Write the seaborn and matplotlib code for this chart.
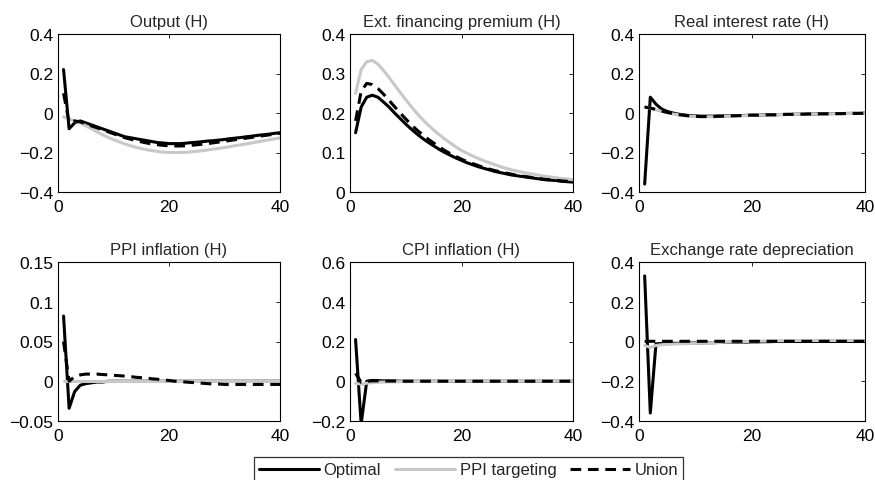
import numpy as np
import pandas as pd
import matplotlib
matplotlib.use("Agg")
import matplotlib.pyplot as plt
import seaborn as sns
from matplotlib.ticker import FixedLocator, FuncFormatter

periods = list(range(1, 41))
series_names = ["Optimal", "PPI targeting", "Union"]

titles = ["Output (H)", "Ext. financing premium (H)", "Real interest rate (H)",
          "PPI inflation (H)", "CPI inflation (H)", "Exchange rate depreciation"]

output_opt = [0.22, -0.08, -0.05, -0.04, -0.05, -0.06, -0.07, -0.08, -0.09, -0.10,
              -0.11, -0.12, -0.125, -0.13, -0.135, -0.14, -0.145, -0.15, -0.152, -0.155,
              -0.155, -0.155, -0.153, -0.15, -0.148, -0.145, -0.142, -0.14, -0.137, -0.134,
              -0.13, -0.127, -0.124, -0.12, -0.117, -0.113, -0.11, -0.107, -0.103, -0.10]
output_ppi = [-0.02, -0.03, -0.04, -0.05, -0.065, -0.08, -0.095, -0.11, -0.123, -0.135,
              -0.146, -0.156, -0.165, -0.173, -0.18, -0.186, -0.191, -0.195, -0.198, -0.2,
              -0.2, -0.2, -0.199, -0.197, -0.194, -0.191, -0.187, -0.183, -0.179, -0.175,
              -0.17, -0.165, -0.161, -0.156, -0.151, -0.146, -0.141, -0.136, -0.131, -0.126]
output_uni = [0.10, -0.05, -0.04, -0.045, -0.055, -0.065, -0.075, -0.085, -0.095, -0.105,
              -0.115, -0.125, -0.132, -0.14, -0.146, -0.152, -0.157, -0.161, -0.164, -0.166,
              -0.167, -0.167, -0.166, -0.164, -0.161, -0.158, -0.155, -0.151, -0.147, -0.143,
              -0.139, -0.135, -0.131, -0.127, -0.123, -0.119, -0.115, -0.111, -0.107, -0.103]

efp_opt = [0.15, 0.215, 0.24, 0.245, 0.24, 0.228, 0.215, 0.2, 0.186, 0.172,
           0.159, 0.147, 0.136, 0.126, 0.117, 0.108, 0.1, 0.093, 0.086, 0.08,
           0.074, 0.069, 0.064, 0.06, 0.056, 0.052, 0.049, 0.046, 0.043, 0.041,
           0.039, 0.037, 0.035, 0.033, 0.031, 0.03, 0.029, 0.027, 0.026, 0.025]
efp_ppi = [0.25, 0.31, 0.33, 0.333, 0.324, 0.308, 0.29, 0.271, 0.252, 0.234,
           0.216, 0.199, 0.184, 0.17, 0.157, 0.145, 0.134, 0.124, 0.114, 0.105,
           0.098, 0.091, 0.085, 0.079, 0.074, 0.069, 0.064, 0.06, 0.056, 0.053,
           0.05, 0.047, 0.045, 0.042, 0.04, 0.038, 0.036, 0.034, 0.033, 0.031]
efp_uni = [0.18, 0.255, 0.275, 0.272, 0.262, 0.248, 0.232, 0.216, 0.2, 0.185,
           0.17, 0.157, 0.145, 0.134, 0.124, 0.114, 0.105, 0.097, 0.09, 0.083,
           0.077, 0.072, 0.067, 0.062, 0.058, 0.054, 0.051, 0.048, 0.045, 0.042,
           0.04, 0.038, 0.036, 0.034, 0.032, 0.031, 0.03, 0.028, 0.027, 0.026]

rir_opt = [-0.36, 0.08, 0.045, 0.02, 0.008, 0.0, -0.006, -0.01, -0.013, -0.015,
           -0.016, -0.016, -0.016, -0.015, -0.015, -0.014, -0.013, -0.013, -0.012, -0.011,
           -0.011, -0.01, -0.009, -0.009, -0.008, -0.007, -0.007, -0.006, -0.006, -0.005,
           -0.005, -0.004, -0.004, -0.003, -0.003, -0.003, -0.002, -0.002, -0.002, -0.001]
rir_ppi = [0.03, 0.024, 0.016, 0.008, 0.001, -0.005, -0.009, -0.013, -0.016, -0.018,
           -0.019, -0.019, -0.019, -0.018, -0.017, -0.016, -0.015, -0.014, -0.013, -0.012,
           -0.011, -0.011, -0.01, -0.009, -0.008, -0.008, -0.007, -0.007, -0.006, -0.006,
           -0.005, -0.005, -0.004, -0.004, -0.003, -0.003, -0.003, -0.002, -0.002, -0.002]
rir_uni = [0.03, 0.025, 0.018, 0.01, 0.003, -0.003, -0.008, -0.012, -0.015, -0.017,
           -0.018, -0.018, -0.018, -0.017, -0.016, -0.015, -0.014, -0.013, -0.012, -0.011,
           -0.011, -0.01, -0.009, -0.009, -0.008, -0.007, -0.007, -0.006, -0.006, -0.005,
           -0.005, -0.004, -0.004, -0.003, -0.003, -0.003, -0.002, -0.002, -0.002, -0.001]

ppi_opt = [0.082, -0.034, -0.013, -0.005, -0.003, -0.002, -0.001, -0.001, 0.0, 0.0,
           0.0, 0.0, 0.0, 0.0, 0.0, 0.0, 0.0, 0.0, 0.0, 0.0,
           0.0, 0.0, 0.0, 0.0, 0.0, 0.0, 0.0, 0.0, 0.0, 0.0,
           0.0, 0.0, 0.0, 0.0, 0.0, 0.0, 0.0, 0.0, 0.0, 0.0]
ppi_ppi = [0.0, 0.0, 0.0, 0.0, 0.0, 0.0, 0.0, 0.0, 0.0, 0.0,
           0.0, 0.0, 0.0, 0.0, 0.0, 0.0, 0.0, 0.0, 0.0, 0.0,
           0.0, 0.0, 0.0, 0.0, 0.0, 0.0, 0.0, 0.0, 0.0, 0.0,
           0.0, 0.0, 0.0, 0.0, 0.0, 0.0, 0.0, 0.0, 0.0, 0.0]
ppi_uni = [0.05, 0.0, 0.006, 0.008, 0.009, 0.009, 0.009, 0.0085, 0.008, 0.0075,
           0.007, 0.0065, 0.006, 0.005, 0.0045, 0.004, 0.003, 0.0025, 0.0015, 0.001,
           0.0, -0.0005, -0.001, -0.0015, -0.002, -0.0025, -0.003, -0.0035, -0.0035, -0.004,
           -0.004, -0.004, -0.004, -0.004, -0.004, -0.004, -0.004, -0.004, -0.004, -0.004]

cpi_opt = [0.21, -0.215, 0.0, 0.004, 0.003, 0.002, 0.001, 0.001, 0.0, 0.0,
           0.0, 0.0, 0.0, 0.0, 0.0, 0.0, 0.0, 0.0, 0.0, 0.0,
           0.0, 0.0, 0.0, 0.0, 0.0, 0.0, 0.0, 0.0, 0.0, 0.0,
           0.0, 0.0, 0.0, 0.0, 0.0, 0.0, 0.0, 0.0, 0.0, 0.0]
cpi_ppi = [-0.01, -0.015, -0.01, -0.007, -0.005, -0.004, -0.003, -0.003, -0.002, -0.002,
           -0.002, -0.001, -0.001, -0.001, -0.001, -0.001, 0.0, 0.0, 0.0, 0.0,
           0.0, 0.0, 0.0, 0.0, 0.0, 0.0, 0.0, 0.0, 0.0, 0.0,
           0.0, 0.0, 0.0, 0.0, 0.0, 0.0, 0.0, 0.0, 0.0, 0.0]
cpi_uni = [0.04, -0.005, 0.0, 0.002, 0.002, 0.001, 0.001, 0.001, 0.0, 0.0,
           0.0, 0.0, 0.0, 0.0, 0.0, 0.0, 0.0, 0.0, 0.0, 0.0,
           0.0, 0.0, 0.0, 0.0, 0.0, 0.0, 0.0, 0.0, 0.0, 0.0,
           0.0, 0.0, 0.0, 0.0, 0.0, 0.0, 0.0, 0.0, 0.0, 0.0]

exr_opt = [0.33, -0.36, -0.012, -0.01, -0.01, -0.009, -0.009, -0.008, -0.008, -0.007,
           -0.007, -0.006, -0.006, -0.005, -0.005, -0.004, -0.004, -0.003, -0.003, -0.002,
           -0.002, -0.001, -0.001, 0.0, 0.0, 0.0, 0.0, 0.0, 0.0, 0.0,
           0.0, 0.0, 0.0, 0.0, 0.0, 0.0, 0.0, 0.0, 0.0, 0.0]
exr_ppi = [-0.02, -0.03, -0.02, -0.016, -0.014, -0.013, -0.012, -0.011, -0.010, -0.009,
           -0.008, -0.007, -0.006, -0.005, -0.004, -0.003, -0.002, -0.001, 0.0, 0.001,
           0.002, 0.002, 0.003, 0.003, 0.004, 0.004, 0.004, 0.005, 0.005, 0.005,
           0.005, 0.005, 0.005, 0.005, 0.005, 0.005, 0.005, 0.005, 0.005, 0.005]
exr_uni = [0.0, 0.001, 0.001, 0.001, 0.001, 0.001, 0.001, 0.001, 0.001, 0.001,
           0.001, 0.001, 0.001, 0.001, 0.001, 0.001, 0.001, 0.001, 0.001, 0.001,
           0.001, 0.001, 0.001, 0.001, 0.001, 0.001, 0.001, 0.001, 0.001, 0.001,
           0.001, 0.001, 0.001, 0.001, 0.001, 0.001, 0.001, 0.001, 0.001, 0.001]

panel_data = [
    (output_opt, output_ppi, output_uni),
    (efp_opt, efp_ppi, efp_uni),
    (rir_opt, rir_ppi, rir_uni),
    (ppi_opt, ppi_ppi, ppi_uni),
    (cpi_opt, cpi_ppi, cpi_uni),
    (exr_opt, exr_ppi, exr_uni),
]
y_ticks = [
    [-0.4, -0.2, 0, 0.2, 0.4],
    [0, 0.1, 0.2, 0.3, 0.4],
    [-0.4, -0.2, 0, 0.2, 0.4],
    [-0.05, 0, 0.05, 0.1, 0.15],
    [-0.2, 0, 0.2, 0.4, 0.6],
    [-0.4, -0.2, 0, 0.2, 0.4],
]
x_ticks = [0, 20, 40]

sns.set_style("white")
plt.rcParams["font.family"] = ["Liberation Sans", "DejaVu Sans"]
plt.rcParams["axes.unicode_minus"] = True

fig = plt.figure(figsize=(8.75, 4.81), dpi=100)
W, H = 875.0, 481.0
col_lr = [(58, 280), (350, 573), (639, 865)]
row_tb = [(35, 193), (263, 422)]

palette = {"Optimal": "black", "PPI targeting": "#c8c8c8", "Union": "black"}
dashes = {"Optimal": "", "PPI targeting": "", "Union": (3.5, 2.2)}

fmt = FuncFormatter(lambda v, p: ("%g" % round(v, 4)).replace("-", "\u2212"))

for i in range(6):
    r, c = divmod(i, 3)
    l, rr = col_lr[c]
    t, b = row_tb[r]
    ax = fig.add_axes([l / W, 1 - b / H, (rr - l) / W, (b - t) / H])
    opt, ppi, uni = panel_data[i]
    df = pd.DataFrame({
        "t": periods * 3,
        "v": list(opt) + list(ppi) + list(uni),
        "s": ["Optimal"] * 40 + ["PPI targeting"] * 40 + ["Union"] * 40,
    })
    sns.lineplot(data=df, x="t", y="v", hue="s", style="s", palette=palette,
                 dashes=dashes, hue_order=series_names, style_order=series_names,
                 linewidth=2.2, ax=ax, legend=(i == 0))
    ax.set_xlim(0, 40)
    ax.set_ylim(y_ticks[i][0], y_ticks[i][-1])
    ax.xaxis.set_major_locator(FixedLocator(x_ticks))
    ax.yaxis.set_major_locator(FixedLocator(y_ticks[i]))
    ax.yaxis.set_major_formatter(fmt)
    ax.xaxis.set_major_formatter(fmt)
    ax.set_xlabel("")
    ax.set_ylabel("")
    ax.set_title(titles[i], fontsize=12, pad=6)
    ax.tick_params(direction="in", length=3, width=0.6, labelsize=12.5,
                   top=True, right=True, colors="black")
    ax.tick_params(axis="x", pad=5)
    ax.tick_params(axis="y", pad=3.5)
    for sp in ax.spines.values():
        sp.set_color("black")
        sp.set_linewidth(0.8)
    if i == 0:
        handles, labels = ax.get_legend_handles_labels()
        ax.get_legend().remove()

leg = fig.legend(handles, labels, loc="upper center",
                 bbox_to_anchor=(468.5 / W, 1 - 450 / H), ncol=3, frameon=True,
                 fontsize=12, handlelength=3.6, handletextpad=0.3,
                 columnspacing=0.8, borderpad=0.3, fancybox=False)
leg.get_frame().set_edgecolor("black")
leg.get_frame().set_linewidth(0.9)

fig.savefig("out.png", dpi=100)
